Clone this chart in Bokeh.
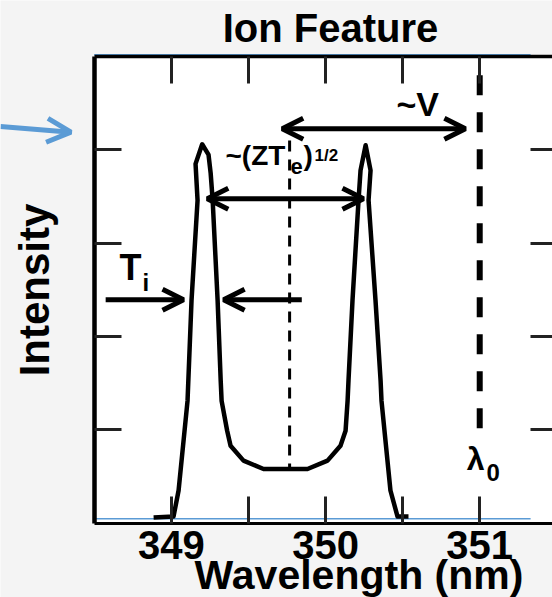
from bokeh.plotting import figure
from bokeh.models import (Range1d, LinearAxis, FixedTicker, Label, Arrow, OpenHead,
                          BoxAnnotation)
from bokeh.embed import file_html
from bokeh.resources import INLINE

# ---- data ----
wavelength = [348.885, 349.014, 349.047, 349.105, 349.131, 349.170, 349.157, 349.200,
              349.241, 349.255, 349.268, 349.300, 349.320, 349.326, 349.362, 349.384,
              349.468, 349.598, 349.883, 350.013, 350.097, 350.130, 350.143, 350.149,
              350.175, 350.214, 350.227, 350.260, 350.292, 350.279, 350.324, 350.357,
              350.363, 350.421, 350.467, 350.538]
intensity = [0.06, 0.07, 0.35, 1.31, 2.39, 3.46, 3.85, 4.06,
             3.95, 3.75, 3.46, 2.39, 1.53, 1.31, 0.99, 0.83,
             0.67, 0.58, 0.58, 0.67, 0.83, 0.99, 1.31, 1.53,
             2.39, 3.46, 3.78, 4.05, 3.78, 3.46, 2.39, 1.53,
             1.31, 0.35, 0.07, 0.07]
x_major_ticks = [349, 350, 351]
x_minor_ticks = [349.5, 350.5]
y_ticks = [1, 2, 3, 4]
x_lo, x_hi = 348.5, 351.505      # plot box in data units
y_lo, y_hi = 0, 5
lambda0 = 351.0
line_center = 349.767

FONT = "Liberation Sans"
BLUE = "#5b9bd5"
TICK = "#222222"
GRAY = "#f4f4f4"

p = figure(width=552, height=597, output_backend="svg", toolbar_location=None,
           x_range=Range1d(347.892, 351.472), y_range=Range1d(-0.797, 5.601),
           min_border=0, min_border_left=0, min_border_right=0,
           min_border_top=0, min_border_bottom=0,
           background_fill_color=GRAY, border_fill_color=GRAY,
           outline_line_color=None)
p.grid.visible = False

# white plot box
p.add_layout(BoxAnnotation(left=x_lo, right=x_hi, bottom=y_lo, top=y_hi,
                           fill_color="white", fill_alpha=1.0, line_color=None,
                           level="underlay"))

def style_axis(ax, tick_in, line_width, show_line=True):
    ax.major_tick_in = tick_in
    ax.major_tick_out = 0
    ax.minor_tick_in = tick_in
    ax.minor_tick_out = 0
    ax.major_tick_line_width = 3
    ax.minor_tick_line_width = 3
    ax.major_tick_line_color = TICK
    ax.minor_tick_line_color = TICK
    ax.axis_line_width = line_width
    ax.axis_line_color = "black" if show_line else None

# bottom axis (labelled)
xa = p.xaxis[0]
xa.fixed_location = y_lo
xa.bounds = (x_lo, x_hi)
xa.ticker = FixedTicker(ticks=x_major_ticks, minor_ticks=x_minor_ticks)
style_axis(xa, 27, 3)
xa.major_label_text_font = FONT
xa.major_label_text_font_size = "40px"
xa.major_label_text_font_style = "bold"
xa.major_label_text_color = "black"
xa.major_label_standoff = 8

# left axis (unlabelled ticks drawn as minor ticks)
ya = p.yaxis[0]
ya.fixed_location = x_lo
ya.bounds = (y_lo, y_hi)
ya.ticker = FixedTicker(ticks=[], minor_ticks=y_ticks)
style_axis(ya, 27, 4.5)
ya.axis_label = "Intensity"
ya.axis_label_text_font = FONT
ya.axis_label_text_font_size = "42px"
ya.axis_label_text_font_style = "bold"
ya.axis_label_text_color = "black"
ya.axis_label_standoff = 37

# top axis
ta = LinearAxis(fixed_location=y_hi, bounds=(x_lo, x_hi),
                ticker=FixedTicker(ticks=[], minor_ticks=x_major_ticks + x_minor_ticks))
style_axis(ta, 27, 3.5)
p.add_layout(ta, "above")

# right axis
ra = LinearAxis(fixed_location=x_hi, bounds=(y_lo, y_hi),
                ticker=FixedTicker(ticks=[], minor_ticks=y_ticks))
style_axis(ra, 27, 0, show_line=False)
p.add_layout(ra, "right")

# blue frame edges
p.line([x_lo, 351.33], [5.02, 5.02], line_color=BLUE, line_width=1.5)
p.line([x_lo, 351.33], [0.046, 0.046], line_color=BLUE, line_width=1.5)

# spectrum
p.line(wavelength, intensity, line_width=4.5, line_color="black", line_join="round")

# dashed lines
p.line([line_center, line_center], [4.10, 0.58], line_width=3, line_color="black",
       line_dash="11 8")
p.line([lambda0, lambda0], [4.80, 0.99], line_width=6, line_color="black",
       line_dash="20 17")

# arrows
def head(size=21, lw=5, color="black"):
    return OpenHead(size=size, line_width=lw, line_color=color)

p.add_layout(Arrow(x_start=349.719, y_start=4.226, x_end=350.907, y_end=4.226,
                   start=head(), end=head(), line_width=5, line_color="black"))
p.add_layout(Arrow(x_start=349.233, y_start=3.476, x_end=350.246, y_end=3.476,
                   start=head(), end=head(), line_width=5, line_color="black"))
p.add_layout(Arrow(x_start=348.574, y_start=2.393, x_end=349.079, y_end=2.393,
                   end=head(), line_width=5, line_color="black"))
p.add_layout(Arrow(x_start=349.846, y_start=2.393, x_end=349.339, y_end=2.393,
                   end=head(), line_width=5, line_color="black"))
p.add_layout(Arrow(x_start=347.892, y_start=4.250, x_end=348.349, y_end=4.190,
                   end=head(24, 5, BLUE), line_width=5, line_color=BLUE))

# text annotations
def lab(x, y, text, size, align="left", style="bold"):
    p.add_layout(Label(x=x, y=y, text=text, text_font=FONT, text_font_size=size,
                       text_font_style=style, text_color="black", text_align=align,
                       text_baseline="alphabetic"))

lab(350.032, 5.304, "Ion Feature", "40px", align="center")
lab(350.460, 4.496, "~V", "34px")
lab(349.351, 3.940, "~(ZT", "28px")
lab(349.773, 3.820, "e", "22px")
lab(349.857, 3.940, ")", "28px")
lab(349.929, 3.945, "1/2", "17px")
lab(348.664, 2.735, "T", "36px")
lab(348.813, 2.583, "i", "24px")
lab(350.973, 0.684, "λ", "32px", align="center")
lab(351.044, 0.547, "0", "24px")
lab(350.217, -0.555, "Wavelength (nm)", "41px", align="center")

open("out.html", "w").write(file_html(p, INLINE))
